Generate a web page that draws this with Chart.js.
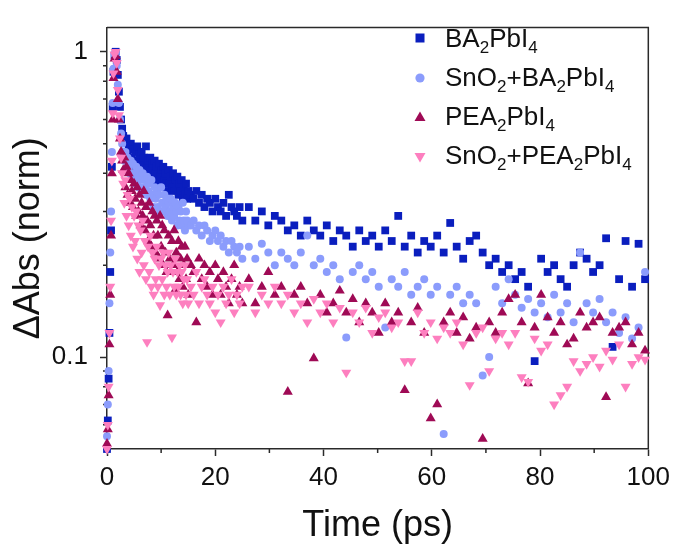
<!DOCTYPE html>
<html>
<head>
<meta charset="utf-8">
<script src="https://cdn.jsdelivr.net/npm/chart.js@4/dist/chart.umd.min.js"></script>
<style>
  html, body { margin: 0; padding: 0; background: #fff; }
  #wrap { position: relative; width: 676px; height: 546px; }
  #legend { font-family: "Liberation Sans", Arial, sans-serif; font-size: 26px; color: #111; }
  .mk { position: absolute; left: 413px; width: 14px; height: 14px; }
  .lt { position: absolute; left: 445px; line-height: 29px; white-space: nowrap; }
  .lt sub { font-size: 17px; vertical-align: -6px; line-height: 0; }
</style>
</head>
<body>
<div id="wrap">
  <canvas id="c" width="676" height="546"></canvas>
  <div id="legend">
    <svg class="mk" style="top:31px" viewBox="0 0 14 14"><rect x="2.5" y="2.5" width="9" height="9" fill="#0a1ebe"/></svg>
    <div class="lt" style="top:24px">BA<sub>2</sub>PbI<sub>4</sub></div>
    <svg class="mk" style="top:71px" viewBox="0 0 14 14"><circle cx="7" cy="7" r="4.6" fill="#8b9cfc"/></svg>
    <div class="lt" style="top:63px">SnO<sub>2</sub>+BA<sub>2</sub>PbI<sub>4</sub></div>
    <svg class="mk" style="top:110px" viewBox="0 0 14 14"><polygon points="7,1.5 12.5,11 1.5,11" fill="#9f0a55"/></svg>
    <div class="lt" style="top:102px">PEA<sub>2</sub>PbI<sub>4</sub></div>
    <svg class="mk" style="top:150px" viewBox="0 0 14 14"><polygon points="1.5,3 12.5,3 7,12.5" fill="#fd7fbf"/></svg>
    <div class="lt" style="top:141px">SnO<sub>2</sub>+PEA<sub>2</sub>PbI<sub>4</sub></div>
  </div>
</div>
<script>
// delay times shared by all four traces (ps)
const times = [
  0, 0.15, 0.3, 0.45, 0.6, 0.75, 0.9, 1.05,
  1.2, 1.4, 1.6, 1.8, 2, 2.2, 2.4, 2.6, 2.8, 3,
  3.2, 3.4, 3.6, 3.8, 4, 4.2, 4.4, 4.6, 4.8, 5,
  5.2, 5.4, 5.6, 5.8, 6, 6.2, 6.4, 6.6, 6.8, 7,
  7.2, 7.4, 7.6, 7.8, 8, 8.2, 8.4, 8.6, 8.8, 9,
  9.2, 9.4, 9.6, 9.8, 10, 10.2, 10.4, 10.6, 10.8, 11,
  11.2, 11.4, 11.6, 11.8, 12, 12.2, 12.4, 12.6, 12.8, 13,
  13.2, 13.4, 13.6, 13.8, 14, 14.2, 14.4, 14.6, 14.8, 15,
  15.5, 16, 16.5, 17, 17.5, 18, 18.5, 19, 19.5, 20,
  20.5, 21, 21.5, 22, 22.5, 23, 23.5, 24, 24.5, 25,
  26.2, 27.4,
  28.6, 29.8, 31, 32.2, 33.4, 34.6, 35.8, 37, 38.2, 39.4,
  40.6, 41.8, 43, 44.2, 45.4, 46.6, 47.8, 49, 50.2, 51.4,
  52.6, 53.8, 55, 56.2, 57.4, 58.6, 59.8, 61, 62.2, 63.4,
  64.6, 65.8, 67, 68.2, 69.4, 70.6, 71.8, 73, 74.2, 75.4,
  76.6, 77.8, 79, 80.2, 81.4, 82.6, 83.8, 85, 86.2, 87.4,
  88.6, 89.8, 91, 92.2, 93.4, 94.6, 95.8, 97, 98.2, 99.4
];
const ba = [
  0.05, 0.062, 0.085, 0.12, 0.19, 0.26, 0.42, 0.66,
  0.86, 0.97, 1.0, 0.94, 0.84, 0.74, 0.66, 0.6, 0.56, 0.53,
  0.51, 0.47, 0.52, 0.46, 0.49, 0.44, 0.5, 0.45, 0.48, 0.43,
  0.47, 0.42, 0.49, 0.44, 0.46, 0.41, 0.47, 0.43, 0.45, 0.4,
  0.49, 0.42, 0.44, 0.39, 0.45, 0.41, 0.43, 0.38, 0.44, 0.4,
  0.42, 0.37, 0.43, 0.39, 0.41, 0.36, 0.42, 0.38, 0.4, 0.37,
  0.35, 0.41, 0.37, 0.39, 0.36, 0.4, 0.35, 0.38, 0.36, 0.39,
  0.34, 0.37, 0.35, 0.38, 0.33, 0.36, 0.34, 0.37, 0.33, 0.35,
  0.34, 0.33, 0.35, 0.32, 0.34, 0.31, 0.33, 0.32, 0.3, 0.33,
  0.31, 0.3, 0.32, 0.29, 0.34, 0.31, 0.3, 0.29, 0.31, 0.28,
  0.31, 0.28,
  0.3, 0.27, 0.29, 0.28, 0.26, 0.27, 0.25, 0.28, 0.26, 0.25,
  0.27, 0.24, 0.26, 0.25, 0.23, 0.26, 0.24, 0.25, 0.23, 0.26,
  0.24, 0.29, 0.23, 0.25, 0.22, 0.24, 0.23, 0.25, 0.22, 0.275,
  0.23, 0.21, 0.24, 0.25, 0.22, 0.2, 0.21, 0.19, 0.2, 0.18,
  0.19, 0.17, 0.097, 0.21, 0.19, 0.2, 0.18, 0.17, 0.2, 0.22,
  0.21, 0.19, 0.2, 0.245, 0.108, 0.18, 0.24, 0.17, 0.235, 0.18
];
const snBa = [
  0.055, 0.07, 0.09, 0.15, 0.22, 0.3, 0.47, 0.68,
  0.88, 0.98, 0.99, 0.9, 0.78, 0.68, 0.6, 0.54, 0.5, 0.47,
  0.44, 0.47, 0.41, 0.45, 0.42, 0.4, 0.44, 0.39, 0.43, 0.4,
  0.37, 0.42, 0.39, 0.36, 0.41, 0.38, 0.35, 0.4, 0.36, 0.38,
  0.34, 0.39, 0.35, 0.37, 0.33, 0.38, 0.34, 0.31, 0.36, 0.33,
  0.35, 0.31, 0.34, 0.3, 0.36, 0.32, 0.3, 0.34, 0.31, 0.33,
  0.29, 0.32, 0.3, 0.33, 0.28, 0.31, 0.29, 0.32, 0.3, 0.27,
  0.31, 0.28, 0.3, 0.27, 0.32, 0.28, 0.26, 0.3, 0.28, 0.27,
  0.27, 0.28, 0.26, 0.27, 0.25, 0.27, 0.26, 0.24, 0.25, 0.26,
  0.24, 0.25, 0.23, 0.24, 0.22, 0.24, 0.23, 0.22, 0.23, 0.21,
  0.23, 0.21,
  0.235, 0.22, 0.2, 0.22, 0.21, 0.2, 0.22, 0.25, 0.2, 0.21,
  0.19, 0.2, 0.18, 0.116, 0.19, 0.2, 0.18, 0.19, 0.17, 0.125,
  0.18, 0.17, 0.19, 0.16, 0.17, 0.18, 0.16, 0.17, 0.056, 0.16,
  0.17, 0.15, 0.16, 0.15, 0.087, 0.1, 0.17, 0.15, 0.18, 0.16,
  0.145, 0.155, 0.14, 0.15, 0.135, 0.16, 0.14, 0.15, 0.13, 0.22,
  0.15, 0.14, 0.155, 0.13, 0.14, 0.12, 0.135, 0.115, 0.125, 0.19
];
const pea = [
  0.052, 0.058, 0.075, 0.11, 0.16, 0.25, 0.4, 0.6,
  0.82, 0.95, 0.97, 0.86, 0.7, 0.6, 0.52, 0.47, 0.44, 0.41,
  0.45, 0.36, 0.42, 0.34, 0.4, 0.32, 0.38, 0.35, 0.31, 0.37,
  0.33, 0.29, 0.36, 0.3, 0.34, 0.27, 0.32, 0.29, 0.35, 0.26,
  0.31, 0.28, 0.24, 0.32, 0.27, 0.23, 0.3, 0.25, 0.29, 0.22,
  0.28, 0.25, 0.21, 0.29, 0.23, 0.27, 0.2, 0.26, 0.22, 0.19,
  0.137, 0.25, 0.21, 0.19, 0.24, 0.2, 0.26, 0.166, 0.22, 0.19,
  0.24, 0.18, 0.21, 0.23, 0.17, 0.2, 0.23, 0.18, 0.21, 0.16,
  0.2, 0.19, 0.13, 0.21, 0.18, 0.2, 0.17, 0.19, 0.16, 0.2,
  0.18, 0.16, 0.19, 0.17, 0.15, 0.18, 0.2, 0.16, 0.17, 0.15,
  0.18, 0.15,
  0.17, 0.19, 0.16, 0.17, 0.077, 0.16, 0.17, 0.15, 0.099, 0.16,
  0.14, 0.15, 0.165, 0.14, 0.155, 0.13, 0.15, 0.14, 0.12, 0.15,
  0.13, 0.14, 0.078, 0.13, 0.145, 0.12, 0.063, 0.07, 0.13, 0.14,
  0.12, 0.135, 0.115, 0.125, 0.054, 0.13, 0.12, 0.14, 0.155, 0.16,
  0.13, 0.082, 0.125, 0.16, 0.135, 0.12, 0.13, 0.11, 0.115, 0.14,
  0.125, 0.13, 0.135, 0.074, 0.12, 0.125, 0.13, 0.11, 0.12, 0.105
];
const snPea = [
  0.05, 0.06, 0.08, 0.12, 0.17, 0.28, 0.44, 0.63,
  0.85, 0.98, 1.0, 0.92, 0.75, 0.62, 0.52, 0.45, 0.4, 0.37,
  0.32, 0.38, 0.29, 0.34, 0.27, 0.33, 0.25, 0.31, 0.23, 0.29,
  0.24, 0.3, 0.21, 0.27, 0.19, 0.26, 0.22, 0.28, 0.2, 0.24,
  0.18, 0.112, 0.23, 0.19, 0.25, 0.17, 0.22, 0.16, 0.21, 0.18,
  0.23, 0.17, 0.2, 0.148, 0.21, 0.18, 0.22, 0.16, 0.2, 0.17,
  0.19, 0.22, 0.16, 0.2, 0.116, 0.19, 0.17, 0.21, 0.16, 0.19,
  0.17, 0.2, 0.16, 0.19, 0.15, 0.18, 0.2, 0.16, 0.18, 0.15,
  0.17, 0.16, 0.19, 0.15, 0.17, 0.18, 0.16, 0.15, 0.17, 0.14,
  0.16, 0.13, 0.17, 0.15, 0.16, 0.18, 0.14, 0.16, 0.15, 0.17,
  0.17, 0.14,
  0.16, 0.15, 0.17, 0.15, 0.16, 0.14, 0.15, 0.13, 0.155, 0.14,
  0.15, 0.13, 0.145, 0.089, 0.14, 0.13, 0.145, 0.12, 0.135, 0.14,
  0.125, 0.13, 0.097, 0.097, 0.14, 0.12, 0.13, 0.115, 0.125, 0.12,
  0.13, 0.11, 0.081, 0.12, 0.125, 0.09, 0.115, 0.12, 0.11, 0.12,
  0.086, 0.083, 0.115, 0.105, 0.11, 0.07, 0.075, 0.08, 0.097, 0.09,
  0.095, 0.1, 0.093, 0.105, 0.098, 0.11, 0.08, 0.095, 0.1, 0.098
];

const xTicks = [0, 20, 40, 60, 80, 100];
const xMinor = [10, 30, 50, 70, 90];
const yTicks = [0.1, 1];
const yMinor = [0.05, 0.06, 0.07, 0.08, 0.09, 0.2, 0.3, 0.4, 0.5, 0.6, 0.7, 0.8, 0.9];

const FONT = "'Liberation Sans', Arial, sans-serif";
const AXIS = '#2a2a2a';
const pts = vals => vals.map((v, i) => ({ x: times[i], y: v }));

// top/right frame + short minor ticks
const frame = {
  id: 'frame',
  beforeDatasetsDraw(chart) {
    const { ctx, chartArea: a, scales: { x, y } } = chart;
    ctx.save();
    ctx.strokeStyle = AXIS;
    ctx.lineWidth = 1.5;
    ctx.beginPath();
    ctx.moveTo(a.left, a.top); ctx.lineTo(a.right, a.top); ctx.lineTo(a.right, a.bottom);
    yMinor.forEach(v => { const p = y.getPixelForValue(v); ctx.moveTo(a.left - 4, p); ctx.lineTo(a.left, p); });
    xMinor.forEach(v => { const p = x.getPixelForValue(v); ctx.moveTo(p, a.bottom); ctx.lineTo(p, a.bottom + 4); });
    ctx.stroke();
    ctx.restore();
  }
};

new Chart(document.getElementById('c'), {
  type: 'scatter',
  data: {
    datasets: [
      { label: 'BA2PbI4', data: pts(ba), pointStyle: 'rect', pointRadius: 5.5, backgroundColor: '#0a1ebe', borderWidth: 0, order: 4 },
      { label: 'SnO2+BA2PbI4', data: pts(snBa), pointStyle: 'circle', pointRadius: 4, backgroundColor: '#8b9cfc', borderWidth: 0, order: 3 },
      { label: 'PEA2PbI4', data: pts(pea), pointStyle: 'triangle', pointRadius: 5.8, backgroundColor: '#9f0a55', borderWidth: 0, order: 2 },
      { label: 'SnO2+PEA2PbI4', data: pts(snPea), pointStyle: 'triangle', rotation: 180, pointRadius: 5.8, backgroundColor: '#fd7fbf', borderWidth: 0, order: 1 }
    ]
  },
  options: {
    responsive: false,
    animation: false,
    clip: false,
    layout: { padding: { top: 12, right: 25, left: 0, bottom: 0 } },
    plugins: { legend: { display: false }, tooltip: { enabled: false } },
    scales: {
      x: {
        type: 'linear', min: 0, max: 100,
        afterBuildTicks: s => { s.ticks = xTicks.map(v => ({ value: v })); },
        afterFit: s => { s.height = 97; },
        grid: { drawOnChartArea: false, drawTicks: true, tickLength: 7, tickColor: AXIS, tickWidth: 1.5 },
        border: { display: true, color: AXIS, width: 1.5 },
        ticks: { font: { family: FONT, size: 26 }, color: '#111', padding: 6, maxRotation: 0 },
        title: { display: true, text: 'Time (ps)', color: '#111', font: { family: FONT, size: 36, lineHeight: 1.1 }, padding: { top: 0, bottom: 0 } }
      },
      y: {
        type: 'logarithmic', min: 0.05, max: 1.2,
        afterBuildTicks: s => { s.ticks = yTicks.map(v => ({ value: v })); },
        afterFit: s => { s.width = 107; },
        grid: { drawOnChartArea: false, drawTicks: true, tickLength: 7, tickColor: AXIS, tickWidth: 1.5 },
        border: { display: true, color: AXIS, width: 1.5 },
        ticks: { font: { family: FONT, size: 26 }, color: '#111', padding: 12, callback: v => String(v) },
        title: { display: true, text: '\u0394Abs (norm)', color: '#111', font: { family: FONT, size: 36, lineHeight: 1.1 }, padding: { top: 9, bottom: 0 } }
      }
    }
  },
  plugins: [frame]
});
</script>
</body>
</html>
